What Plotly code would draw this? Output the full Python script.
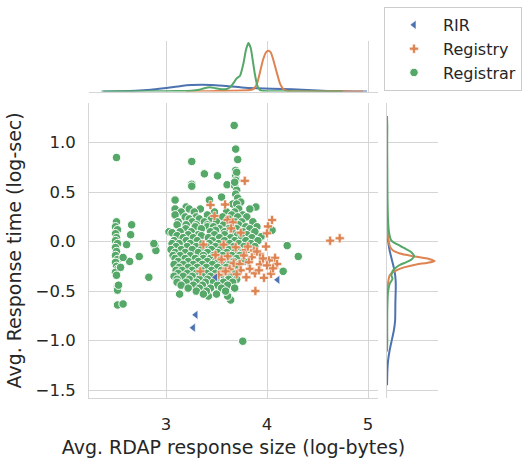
import plotly.graph_objects as go

# ---------------- data ----------------
registrar_points = [
    # upper outliers / column near 3.7
    (3.675, 1.174), (2.51, 0.85), (3.69, 0.935), (3.71, 0.83), (3.255, 0.81),
    (3.255, 0.58), (3.255, 0.56), (3.38, 0.685), (3.51, 0.665), (3.69, 0.72),
    (3.69, 0.665), (3.70, 0.70), (3.605, 0.575), (3.68, 0.565), (3.69, 0.62),
    (3.70, 0.52), (3.69, 0.48), (3.71, 0.44), (3.68, 0.60),
    # left column ~2.5
    (2.51, 0.20), (2.50, 0.15), (2.52, 0.12), (2.50, 0.08), (2.51, 0.04),
    (2.50, 0.01), (2.52, -0.02), (2.50, -0.06), (2.51, -0.10), (2.50, -0.14),
    (2.52, -0.18), (2.50, -0.21), (2.51, -0.25), (2.52, -0.28), (2.50, -0.31),
    (2.51, -0.34), (2.52, -0.45), (2.52, -0.49), (2.52, -0.64), (2.575, -0.63),
    (2.53, -0.44), (2.66, 0.17), (2.65, 0.07), (2.61, -0.03), (2.735, -0.15),
    (2.64, -0.20), (2.575, -0.16), (2.55, -0.26), (2.83, -0.36), (2.89, -0.04),
    (2.90, -0.09), (2.88, -0.02),
    # right side / lower outliers
    (3.89, 0.35), (3.83, 0.33), (3.95, 0.06), (4.05, 0.115), (4.20, -0.04),
    (4.31, -0.15), (4.16, -0.30), (3.94, 0.05), (3.76, -1.006), (3.135, -0.53),
    (3.42, -0.55), (3.64, -0.59), (3.61, -0.55),
    # dense core
    (3.55, 0.45), (3.09, 0.42), (3.43, 0.42), (3.74, 0.40), (3.66, 0.38),
    (3.70, 0.38), (3.20, 0.35), (3.09, 0.33), (3.23, 0.33), (3.34, 0.33),
    (3.72, 0.33), (3.15, 0.30), (3.28, 0.30), (3.48, 0.30), (3.60, 0.30),
    (3.68, 0.30), (3.09, 0.27), (3.41, 0.27), (3.65, 0.27), (3.76, 0.27),
    (3.19, 0.25), (3.30, 0.25), (3.56, 0.25), (3.71, 0.25), (3.80, 0.25),
    (3.23, 0.23), (3.33, 0.23), (3.45, 0.23), (3.62, 0.23),
    (3.12, 0.20), (3.26, 0.20), (3.38, 0.20), (3.50, 0.20), (3.68, 0.20),
    (3.75, 0.20), (3.86, 0.20), (3.11, 0.17), (3.20, 0.17), (3.30, 0.17),
    (3.41, 0.17), (3.57, 0.17), (3.64, 0.17), (3.72, 0.17), (3.29, 0.15),
    (3.41, 0.15), (3.47, 0.15), (3.79, 0.15), (3.90, 0.15), (3.195, 0.13),
    (3.35, 0.13), (3.53, 0.13), (3.62, 0.13), (3.70, 0.13), (3.83, 0.13),
    (3.49, 0.115), (3.03, 0.10), (3.14, 0.10), (3.25, 0.10), (3.44, 0.10),
    (3.58, 0.10), (3.66, 0.10), (3.76, 0.10), (3.88, 0.10), (3.06, 0.09),
    (3.22, 0.07), (3.32, 0.07), (3.48, 0.07), (3.58, 0.07), (3.71, 0.07),
    (3.80, 0.07), (3.11, 0.06), (3.35, 0.06), (3.17, 0.04), (3.27, 0.04),
    (3.42, 0.04), (3.53, 0.04), (3.64, 0.04), (3.75, 0.04), (3.85, 0.04),
    (3.08, 0.01), (3.20, 0.01), (3.31, 0.01), (3.46, 0.01), (3.58, 0.01),
    (3.68, 0.01), (3.79, 0.01), (3.91, 0.01), (3.06, -0.02), (3.13, -0.02),
    (3.24, -0.02), (3.36, -0.02), (3.43, -0.02), (3.52, -0.02), (3.63, -0.02),
    (3.72, -0.02), (3.84, -0.02), (3.10, -0.05), (3.21, -0.05), (3.30, -0.05),
    (3.40, -0.05), (3.49, -0.05), (3.57, -0.05), (3.67, -0.05), (3.77, -0.05),
    (3.88, -0.05), (3.05, -0.08), (3.15, -0.08), (3.26, -0.08), (3.35, -0.08),
    (3.45, -0.08), (3.54, -0.08), (3.62, -0.08), (3.71, -0.08), (3.81, -0.08),
    (3.09, -0.11), (3.19, -0.11), (3.32, -0.11), (3.41, -0.11), (3.51, -0.11),
    (3.60, -0.11), (3.68, -0.11), (3.76, -0.11), (3.07, -0.14), (3.14, -0.14),
    (3.24, -0.14), (3.37, -0.14), (3.47, -0.14), (3.56, -0.14), (3.65, -0.14),
    (3.73, -0.14), (3.09, -0.17), (3.19, -0.17), (3.29, -0.17), (3.37, -0.17),
    (3.44, -0.17), (3.52, -0.17), (3.61, -0.17), (3.70, -0.17), (3.12, -0.20),
    (3.22, -0.20), (3.32, -0.20), (3.41, -0.20), (3.49, -0.20), (3.58, -0.20),
    (3.67, -0.20), (3.77, -0.20), (3.08, -0.23), (3.17, -0.23), (3.27, -0.23),
    (3.36, -0.23), (3.46, -0.23), (3.55, -0.23), (3.63, -0.23), (3.72, -0.23),
    (3.13, -0.26), (3.22, -0.26), (3.31, -0.26), (3.40, -0.26), (3.51, -0.26),
    (3.60, -0.26), (3.68, -0.26), (3.10, -0.29), (3.16, -0.29), (3.26, -0.29),
    (3.35, -0.29), (3.45, -0.29), (3.55, -0.29), (3.64, -0.29), (3.12, -0.32),
    (3.21, -0.32), (3.30, -0.32), (3.40, -0.32), (3.49, -0.32), (3.59, -0.32),
    (3.69, -0.32), (3.08, -0.35), (3.17, -0.35), (3.26, -0.35), (3.36, -0.35),
    (3.44, -0.35), (3.54, -0.35), (3.63, -0.35), (3.11, -0.38), (3.23, -0.38),
    (3.33, -0.38), (3.41, -0.38), (3.50, -0.38), (3.62, -0.38), (3.70, -0.38),
    (3.11, -0.41), (3.20, -0.41), (3.30, -0.41), (3.39, -0.41), (3.47, -0.41),
    (3.57, -0.41), (3.66, -0.41), (3.15, -0.44), (3.27, -0.44), (3.36, -0.44),
    (3.51, -0.44), (3.61, -0.44), (3.22, -0.47), (3.33, -0.47), (3.44, -0.47),
    (3.55, -0.47), (3.68, -0.47), (3.30, -0.50), (3.40, -0.50), (3.59, -0.50),
    (3.37, -0.53), (3.50, -0.53),
]

registry_points = [
    (3.78, 0.614), (3.44, 0.37), (3.585, 0.375), (3.48, 0.26), (3.61, 0.22),
    (3.66, 0.195), (3.645, 0.134), (3.74, 0.09), (4.05, 0.218), (4.01, 0.154),
    (4.00, 0.084), (3.37, -0.03), (3.57, -0.03), (3.69, -0.057), (3.79, -0.084),
    (3.87, -0.09), (3.99, -0.05), (3.49, -0.134), (3.61, -0.148), (3.55, -0.18),
    (3.85, -0.158), (3.93, -0.124), (4.08, -0.164), (4.02, -0.19), (3.67, -0.218),
    (3.73, -0.225), (3.82, -0.208), (3.93, -0.23), (4.00, -0.24), (4.10, -0.225),
    (3.63, -0.28), (3.74, -0.29), (3.83, -0.275), (3.34, -0.30), (3.57, -0.30),
    (3.52, -0.335), (3.795, -0.36), (3.97, -0.366), (4.04, -0.325), (3.885, -0.50),
    (4.625, 0.01), (4.72, 0.034), (3.59, -0.30), (3.90, -0.10), (3.96, -0.17),
    (3.77, -0.14), (3.88, -0.32), (4.06, -0.27), (3.70, -0.33), (3.92, -0.29),
    (3.81, -0.05),
]

rir_points = [(3.295, -0.74), (3.27, -0.87), (4.106, -0.386), (3.49, -0.36)]

registrar_x = [p[0] for p in registrar_points]
registrar_y = [p[1] for p in registrar_points]
registry_x = [p[0] for p in registry_points]
registry_y = [p[1] for p in registry_points]
rir_x = [p[0] for p in rir_points]
rir_y = [p[1] for p in rir_points]

# marginal density curves (top: x vs density, right: y vs density)
registrar_top_x = [2.36, 2.5, 2.7, 2.9, 3.1, 3.25, 3.33, 3.38, 3.435, 3.49, 3.55, 3.6,
                   3.634, 3.667, 3.70, 3.733, 3.766, 3.792, 3.815, 3.838, 3.858, 3.881,
                   3.904, 3.931, 3.97, 4.1, 4.4, 4.75]
registrar_top_d = [0, 0.3, 0.3, 0.4, 0.5, 0.8, 1.8, 3.4, 4.4, 3.4, 2.4, 2.6,
                   4.3, 8.5, 13.3, 16, 28, 42, 48.7, 44, 32, 17,
                   6, 1.5, 0.5, 0.3, 0.1, 0]
registry_top_x = [3.2, 3.35, 3.5, 3.65, 3.75, 3.83, 3.87, 3.90, 3.93, 3.963, 3.99, 4.013,
                  4.037, 4.06, 4.096, 4.13, 4.16, 4.2, 4.3, 4.5, 4.67, 4.8, 4.95]
registry_top_d = [0, 0.3, 0.5, 0.8, 1.0, 1.5, 3.0, 7.7, 19.3, 32.7, 39.5, 41,
                  39.5, 32.7, 19.3, 7.7, 2.7, 0.8, 0.3, 0.3, 0.5, 0.2, 0]
rir_top_x = [2.38, 2.55, 2.7, 2.85, 3.0, 3.15, 3.25, 3.35, 3.45, 3.6, 3.75, 3.9,
             4.05, 4.25, 4.45, 4.65, 4.85, 4.99]
rir_top_d = [0.05, 0.24, 0.76, 1.9, 3.7, 5.65, 6.6, 7.0, 6.75, 5.5, 4.2, 3.4,
             2.95, 2.27, 1.23, 0.44, 0.1, 0.01]

registrar_right_y = [1.27, 1.17, 1.0, 0.8, 0.6, 0.4, 0.23, 0.095, 0.01, -0.04, -0.075,
                     -0.107, -0.147, -0.18, -0.207, -0.235, -0.258, -0.29, -0.34,
                     -0.375, -0.425, -0.51, -0.7, -0.9, -1.0, -1.11]
registrar_right_d = [0, 0.3, 0.2, 0.3, 0.4, 0.6, 1.0, 2.0, 4.3, 12.7, 19,
                     24.4, 27, 24.5, 19.4, 13, 9.4, 6, 4.4,
                     5.5, 2.7, 1.0, 0.3, 0.2, 0.3, 0]
registry_right_y = [0.25, 0.15, 0.05, 0.0, -0.05, -0.09, -0.12, -0.147, -0.175, -0.197,
                    -0.215, -0.23, -0.26, -0.29, -0.34, -0.42, -0.51]
registry_right_d = [0, 0.5, 1.0, 1.8, 3.0, 6.0, 13, 26, 42, 47.7,
                    40, 29.4, 17, 9.4, 2.7, 1.0, 0]
rir_right_y = [0.21, 0.1, 0.0, -0.1, -0.2, -0.3, -0.4, -0.5, -0.6, -0.7, -0.8, -0.9,
               -1.0, -1.1, -1.2, -1.3, -1.45]
rir_right_d = [0.05, 0.4, 1.2, 2.85, 5.3, 7.6, 8.7, 8.7, 8.4, 8.3, 8.1, 6.8,
               4.7, 2.6, 1.1, 0.4, 0.05]

x_ticks = [3, 4, 5]
y_ticks = [-1.5, -1.0, -0.5, 0.0, 0.5, 1.0]

# ---------------- styling ----------------
BLUE, ORANGE, GREEN = "#4C72B0", "#DD8452", "#55A868"
GRID = "#d5d5d5"
TEXT = "#262626"
FONT = "DejaVu Sans"
W, H = 525, 458

def px_x(p):
    return p / W

def px_y(p):
    return 1 - p / H

x_range = [2.2376, 5.099]
y_range = [-1.5825, 1.4054]

fig = go.Figure()

fig.add_trace(go.Scatter(
    x=registrar_x, y=registrar_y, mode="markers", name="Registrar", legendrank=3,
    marker=dict(symbol="circle", size=8.5, color=GREEN, line=dict(color="white", width=1)),
    xaxis="x", yaxis="y"))
fig.add_trace(go.Scatter(
    x=registry_x, y=registry_y, mode="markers", name="Registry", legendrank=2,
    marker=dict(symbol="cross", size=7.5, color=ORANGE, line=dict(color="white", width=0.6)),
    xaxis="x", yaxis="y"))
fig.add_trace(go.Scatter(
    x=rir_x, y=rir_y, mode="markers", name="RIR", legendrank=1,
    marker=dict(symbol="triangle-left", size=8, color=BLUE, line=dict(color="white", width=0.6)),
    xaxis="x", yaxis="y"))

for xs, ds, c in [(rir_top_x, rir_top_d, BLUE), (registry_top_x, registry_top_d, ORANGE),
                  (registrar_top_x, registrar_top_d, GREEN)]:
    fig.add_trace(go.Scatter(x=xs, y=ds, mode="lines", line=dict(color=c, width=2, shape="spline", smoothing=0.6),
                             showlegend=False, hoverinfo="skip", xaxis="x2", yaxis="y2"))

for ys, ds, c in [(rir_right_y, rir_right_d, BLUE), (registry_right_y, registry_right_d, ORANGE),
                  (registrar_right_y, registrar_right_d, GREEN)]:
    fig.add_trace(go.Scatter(x=ds, y=ys, mode="lines", line=dict(color=c, width=2, shape="spline", smoothing=0.6),
                             showlegend=False, hoverinfo="skip", xaxis="x3", yaxis="y3"))

main_dx = [px_x(89), px_x(378)]
main_dy = [px_y(400), px_y(103)]

fig.update_layout(
    width=W, height=H,
    margin=dict(l=0, r=0, t=0, b=0),
    paper_bgcolor="white", plot_bgcolor="white",
    font=dict(family=FONT, color=TEXT, size=16),
    xaxis=dict(domain=main_dx, range=x_range, anchor="y", tickvals=x_ticks,
               showgrid=True, gridcolor=GRID, gridwidth=1, zeroline=False,
               showline=True, linecolor=GRID, linewidth=1,
               ticks="outside", ticklen=11, tickcolor="rgba(0,0,0,0)",
               tickfont=dict(size=16.5, family=FONT, color=TEXT),
               title=dict(text="Avg. RDAP response size (log-bytes)",
                          font=dict(size=19, family=FONT, color=TEXT), standoff=7)),
    yaxis=dict(domain=main_dy, range=y_range, anchor="x", tickvals=y_ticks,
               tickformat=".1f",
               showgrid=True, gridcolor=GRID, gridwidth=1, zeroline=False,
               showline=True, linecolor=GRID, linewidth=1,
               ticks="outside", ticklen=9, tickcolor="rgba(0,0,0,0)",
               tickfont=dict(size=16.5, family=FONT, color=TEXT),
               title=dict(text="Avg. Response time (log-sec)",
                          font=dict(size=19, family=FONT, color=TEXT), standoff=8)),
    xaxis2=dict(domain=main_dx, range=x_range, anchor="y2", tickvals=x_ticks,
                showticklabels=False, showgrid=True, gridcolor=GRID, zeroline=False,
                showline=True, linecolor=GRID, ticks=""),
    yaxis2=dict(domain=[px_y(92), px_y(41)], range=[0, 51], anchor="x2",
                showticklabels=False, showgrid=False, zeroline=False, showline=False, ticks=""),
    xaxis3=dict(domain=[px_x(387), px_x(438)], range=[0, 51], anchor="y3",
                showticklabels=False, showgrid=False, zeroline=False, showline=False, ticks=""),
    yaxis3=dict(domain=main_dy, range=y_range, anchor="x3", tickvals=y_ticks,
                showticklabels=False, showgrid=True, gridcolor=GRID, zeroline=False,
                showline=True, linecolor=GRID, ticks=""),
    legend=dict(x=px_x(384), y=px_y(7), xanchor="left", yanchor="top",
                bordercolor="#cccccc", borderwidth=1, bgcolor="white",
                font=dict(size=16, family=FONT, color=TEXT), itemwidth=48,
                tracegroupgap=0),
)

fig.write_html("out.html")
